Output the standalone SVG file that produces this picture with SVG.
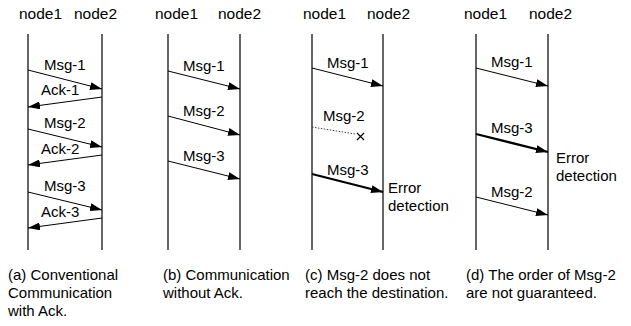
<svg xmlns="http://www.w3.org/2000/svg" width="631" height="326" viewBox="0 0 631 326">
  <defs>
    <style>
      text { font-family: "Liberation Sans", Arial, sans-serif; fill: #000; }
      .node { font-size: 15.5px; }
      .lbl { font-size: 15px; }
      .cap { font-size: 15px; }
      .life { stroke: #000; stroke-width: 1.2; fill: none; }
      .msg { stroke: #000; stroke-width: 1; fill: none; marker-end: url(#arrow); }
      .bold { stroke: #000; stroke-width: 2.2; fill: none; marker-end: url(#arrow); }
      .lost { stroke: #444; stroke-width: 1; stroke-dasharray: 1.5 1.5; fill: none; }
    </style>
    <marker id="arrow" markerUnits="userSpaceOnUse" markerWidth="13" markerHeight="8" refX="12" refY="4" orient="auto">
      <path d="M0,0 L12,4 L0,8 Z" fill="#000"/>
    </marker>
  </defs>

  <!-- (a) conventional communication with ack -->
  <g id="panel-a">
    <g id="a-node1"><text class="node" x="19" y="19">node1</text><line class="life" x1="28" y1="34" x2="28" y2="250"/></g>
    <g id="a-node2"><text class="node" x="74" y="19">node2</text><line class="life" x1="102" y1="34" x2="102" y2="250"/></g>
    <g id="a-connectors">
      <line class="msg" x1="28" y1="70" x2="102" y2="89"/>
      <line class="msg" x1="102" y1="97" x2="28" y2="107"/>
      <line class="msg" x1="28" y1="129" x2="102" y2="147"/>
      <line class="msg" x1="102" y1="155" x2="28" y2="165"/>
      <line class="msg" x1="28" y1="192" x2="102" y2="210"/>
      <line class="msg" x1="102" y1="218" x2="28" y2="228"/>
    </g>
    <text class="lbl" x="44" y="70">Msg-1</text>
    <text class="lbl" x="41" y="95">Ack-1</text>
    <text class="lbl" x="44" y="128">Msg-2</text>
    <text class="lbl" x="41" y="154">Ack-2</text>
    <text class="lbl" x="44" y="191">Msg-3</text>
    <text class="lbl" x="41" y="217">Ack-3</text>
    <text class="cap" x="8" y="280">(a) Conventional</text>
    <text class="cap" x="8" y="298">Communication</text>
    <text class="cap" x="8" y="316">with Ack.</text>
  </g>

  <!-- (b) communication without ack -->
  <g id="panel-b">
    <g id="b-node1"><text class="node" x="155" y="19">node1</text><line class="life" x1="168" y1="34" x2="168" y2="250"/></g>
    <g id="b-node2"><text class="node" x="218" y="19">node2</text><line class="life" x1="240" y1="34" x2="240" y2="250"/></g>
    <g id="b-connectors">
      <line class="msg" x1="168" y1="71" x2="240" y2="89"/>
      <line class="msg" x1="168" y1="116" x2="240" y2="135"/>
      <line class="msg" x1="168" y1="161" x2="240" y2="179"/>
    </g>
    <text class="lbl" x="183" y="71">Msg-1</text>
    <text class="lbl" x="183" y="116">Msg-2</text>
    <text class="lbl" x="183" y="161">Msg-3</text>
    <text class="cap" x="163" y="280">(b) Communication</text>
    <text class="cap" x="163" y="298">without Ack.</text>
  </g>

  <!-- (c) lost message -->
  <g id="panel-c">
    <g id="c-node1"><text class="node" x="303" y="19">node1</text><line class="life" x1="312" y1="34" x2="312" y2="250"/></g>
    <g id="c-node2"><text class="node" x="367" y="19">node2</text><line class="life" x1="383" y1="34" x2="383" y2="250"/></g>
    <g id="c-connectors">
      <line class="msg" x1="312" y1="68" x2="383" y2="86"/>
      <line class="lost" x1="312" y1="127" x2="355" y2="134"/>
      <path d="M357,133 L364,140 M364,133 L357,140" stroke="#000" stroke-width="1.2" fill="none"/>
      <line class="bold" x1="312" y1="174" x2="383" y2="192"/>
    </g>
    <text class="lbl" x="327" y="68">Msg-1</text>
    <text class="lbl" x="323" y="121">Msg-2</text>
    <text class="lbl" x="327" y="175">Msg-3</text>
    <text class="lbl" x="388" y="193">Error</text>
    <text class="lbl" x="388" y="211">detection</text>
    <text class="cap" x="305" y="280">(c) Msg-2 does not</text>
    <text class="cap" x="305" y="298">reach the destination.</text>
  </g>

  <!-- (d) out-of-order delivery -->
  <g id="panel-d">
    <g id="d-node1"><text class="node" x="464" y="19">node1</text><line class="life" x1="476" y1="34" x2="476" y2="250"/></g>
    <g id="d-node2"><text class="node" x="529" y="19">node2</text><line class="life" x1="548" y1="34" x2="548" y2="250"/></g>
    <g id="d-connectors">
      <line class="msg" x1="476" y1="68" x2="548" y2="86"/>
      <line class="bold" x1="476" y1="134" x2="548" y2="152"/>
      <line class="msg" x1="476" y1="197" x2="548" y2="215"/>
    </g>
    <text class="lbl" x="491" y="67">Msg-1</text>
    <text class="lbl" x="491" y="133">Msg-3</text>
    <text class="lbl" x="491" y="197">Msg-2</text>
    <text class="lbl" x="556" y="163">Error</text>
    <text class="lbl" x="556" y="181">detection</text>
    <text class="cap" x="466" y="280">(d) The order of Msg-2</text>
    <text class="cap" x="466" y="298">are not guaranteed.</text>
  </g>
</svg>
